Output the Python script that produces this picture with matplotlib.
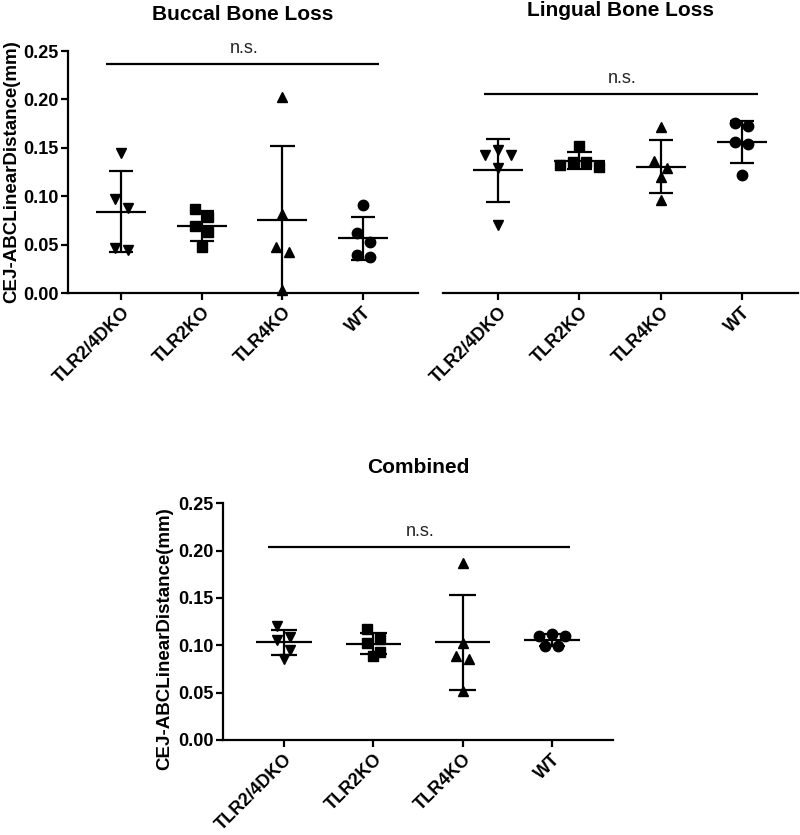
import matplotlib
matplotlib.use('Agg')
import matplotlib.pyplot as plt
import numpy as np

plt.rcParams['font.family'] = ['Liberation Sans', 'DejaVu Sans']

groups = ['TLR2/4DKO', 'TLR2KO', 'TLR4KO', 'WT']
markers = ['v', 's', '^', 'o']

# CEJ-ABC linear distance (mm), 5 mice per group
buccal = [
    [0.145, 0.097, 0.088, 0.046, 0.044],   # TLR2/4DKO
    [0.087, 0.079, 0.069, 0.063, 0.048],   # TLR2KO
    [0.203, 0.082, 0.048, 0.042, 0.003],   # TLR4KO
    [0.091, 0.062, 0.053, 0.039, 0.037],   # WT
]
lingual = [
    [0.148, 0.143, 0.143, 0.129, 0.070],
    [0.152, 0.135, 0.135, 0.132, 0.130],
    [0.172, 0.136, 0.129, 0.120, 0.096],
    [0.176, 0.173, 0.156, 0.154, 0.122],
]
combined = [
    [0.120, 0.109, 0.106, 0.095, 0.085],
    [0.117, 0.107, 0.102, 0.093, 0.089],
    [0.187, 0.102, 0.089, 0.085, 0.052],
    [0.112, 0.110, 0.110, 0.099, 0.099],
]
ns_height = {'buccal': 0.237, 'lingual': 0.206, 'combined': 0.204}

ylabel = 'CEJ-ABCLinearDistance(mm)'
LW = 1.6


def row_offsets(ax, vals, d=11.0, step=13.0):
    # GraphPad-like scatter: points closer than a marker width share a row
    vals = np.asarray(vals, dtype=float)
    ypix = ax.transData.transform(np.c_[np.zeros_like(vals), vals])[:, 1]
    px_cat = ax.transData.transform([(1, 0)])[0, 0] - ax.transData.transform([(0, 0)])[0, 0]
    order = np.argsort(-vals)
    offs = np.zeros(len(vals))
    rows = []
    for i in order:
        if rows and abs(ypix[rows[-1][0]] - ypix[i]) < d:
            rows[-1].append(i)
        else:
            rows.append([i])
    for r in rows:
        n = len(r)
        if n % 2:
            slots = [0]
            for k in range(1, n // 2 + 1):
                slots += [-k, k]
        else:
            slots = []
            for k in range(n // 2):
                slots += [-(k + 0.5), k + 0.5]
        for i, s in zip(r, slots):
            offs[i] = s * step / px_cat
    return offs


def dot_panel(ax, data, ns_y, xlim, show_y=True):
    ax.set_xlim(*xlim)
    ax.set_ylim(0, 0.25)
    for i, vals in enumerate(data):
        offs = row_offsets(ax, vals)
        ax.plot(i + offs, vals, linestyle='none', marker=markers[i], ms=7.5,
                color='black', clip_on=False, zorder=3)
        m = np.mean(vals)
        sd = np.std(vals, ddof=1)
        ax.hlines(m, i - 0.31, i + 0.31, color='black', lw=LW, zorder=4)
        ax.vlines(i, m - sd, m + sd, color='black', lw=LW, zorder=4)
        ax.hlines([m - sd, m + sd], i - 0.15, i + 0.15, color='black', lw=LW, zorder=4)

    ax.hlines(ns_y, -0.18, 3.2, color='black', lw=LW)
    ax.annotate('n.s.', (1.52, ns_y), xytext=(0, 5), textcoords='offset points',
                ha='center', va='bottom', fontsize=13, color='#222222')

    ax.set_xticks(range(len(groups)))
    ax.set_xticklabels(groups, rotation=45, ha='right', va='top',
                       rotation_mode='anchor', fontsize=13, fontweight='bold')
    ax.spines['top'].set_visible(False)
    ax.spines['right'].set_visible(False)
    ax.spines['bottom'].set_linewidth(LW)
    ax.tick_params(axis='x', length=5, width=LW, pad=3)
    if show_y:
        ax.spines['left'].set_linewidth(LW)
        ax.set_yticks([0, 0.05, 0.10, 0.15, 0.20, 0.25])
        ax.set_yticklabels(['%.2f' % t for t in ax.get_yticks()],
                           fontsize=13, fontweight='bold')
        ax.tick_params(axis='y', length=5, width=LW, pad=2)
        ax.set_ylabel(ylabel, fontsize=13.5, fontweight='bold')
    else:
        ax.spines['left'].set_visible(False)
        ax.set_yticks([])


fig = plt.figure(figsize=(8, 8.35), dpi=100)

ax1 = fig.add_axes([0.085, 0.6491, 0.4375, 0.2898])
dot_panel(ax1, buccal, ns_height['buccal'], (-0.657, 3.68))
ax1.set_title('Buccal Bone Loss', fontsize=15, fontweight='bold', pad=22)
ax1.yaxis.set_label_coords(-0.135, 0.5)

ax2 = fig.add_axes([0.55375, 0.6491, 0.44375, 0.2898])
dot_panel(ax2, lingual, ns_height['lingual'], (-0.68, 3.69), show_y=False)
ax2.set_title('Lingual Bone Loss', fontsize=15, fontweight='bold', pad=25)

ax3 = fig.add_axes([0.279, 0.1138, 0.4868, 0.2835])
dot_panel(ax3, combined, ns_height['combined'], (-0.68, 3.68))
ax3.set_title('Combined', fontsize=15, fontweight='bold', pad=22)
ax3.yaxis.set_label_coords(-0.128, 0.427)

fig.savefig('out.png', dpi=100)
plt.close(fig)
